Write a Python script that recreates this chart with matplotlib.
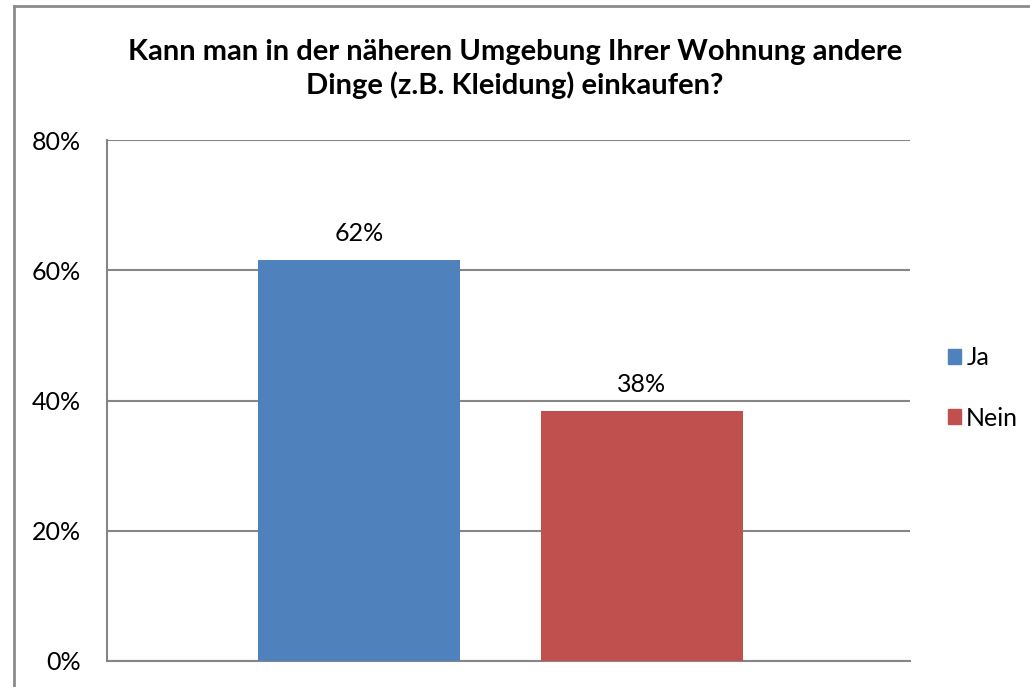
import matplotlib.pyplot as plt
from matplotlib.patches import Rectangle
from matplotlib.lines import Line2D

series = ['Ja', 'Nein']
values = [61.6, 38.4]
labels = ['62%', '38%']
colors = ['#4F81BD', '#C0504D']
yticks = [0, 20, 40, 60, 80]

plt.rcParams['font.family'] = ['Lato', 'DejaVu Sans']

fig = plt.figure(figsize=(10.30, 6.87), dpi=100)
ax = fig.add_axes([107 / 1030, 26 / 687, 803 / 1030, 521 / 687])

x = [0, 1]
bars = ax.bar(x, values, width=0.714, color=colors, zorder=3, label=series)
for xi, v, lab in zip(x, values, labels):
    ax.text(xi, v + 2.3, lab, ha='center', va='bottom', fontsize=18)

ax.set_xlim(-0.89, 1.947)
ax.set_ylim(0, 80)
ax.set_yticks(yticks)
ax.set_yticklabels([f'{t}%' for t in yticks], fontsize=18)
ax.set_xticks([])
ax.tick_params(axis='y', length=0, pad=19)
ax.yaxis.grid(True, color='#868686', linewidth=1.5, zorder=0)
for s in ['top', 'right']:
    ax.spines[s].set_visible(False)
for s in ['left', 'bottom']:
    ax.spines[s].set_color('#868686')
    ax.spines[s].set_linewidth(1.5)

handles = [Rectangle((0, 0), 1, 1, color=c) for c in colors]
fig.legend(handles, series, loc='center left', bbox_to_anchor=(925 / 1030, 1 - 388 / 687),
           frameon=False, fontsize=18, handlelength=0.55, handleheight=0.55,
           handletextpad=0.2, labelspacing=1.5)

fig.text(0.5, 1 - 69 / 687,
         'Kann man in der näheren Umgebung Ihrer Wohnung andere\nDinge (z.B. Kleidung) einkaufen?',
         ha='center', va='center', fontsize=21, fontweight='bold', linespacing=1.3)

# outer chart border
fig.add_artist(Line2D([14 / 1030, 14 / 1030], [0, 1 - 6 / 687], color='#8c8c8c', lw=2))
fig.add_artist(Line2D([14 / 1030, 1], [1 - 6 / 687, 1 - 6 / 687], color='#8c8c8c', lw=2))

fig.savefig('out.png', dpi=100)
